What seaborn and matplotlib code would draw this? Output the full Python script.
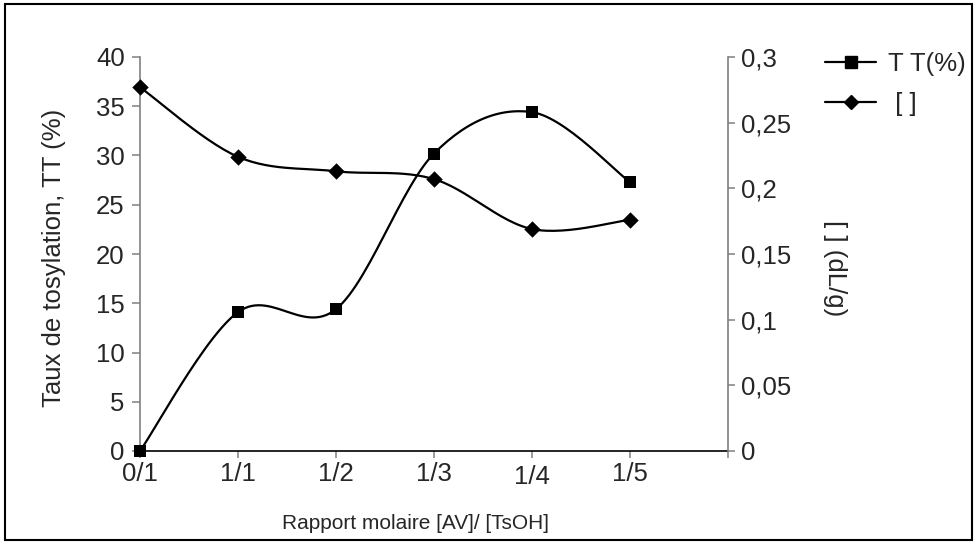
import numpy as np
import pandas as pd
import matplotlib
matplotlib.use("Agg")
import matplotlib.pyplot as plt
import seaborn as sns
from matplotlib.patches import Rectangle
from matplotlib.lines import Line2D

# Data
ratios = ["0/1", "1/1", "1/2", "1/3", "1/4", "1/5"]
taux_tosylation = [0.0, 14.1, 14.4, 30.2, 34.4, 27.3]     # TT (%)
viscosite = [0.277, 0.224, 0.213, 0.207, 0.169, 0.176]   # [ ] (dL/g)

sns.set_theme(style="white")
plt.rcParams["font.family"] = ["Liberation Sans", "DejaVu Sans"]


def smooth(xs, ys, n=30, k=1 / 6.0):
    """Cubic Bezier spline through the points (spreadsheet-style smoothed line)."""
    xs = np.asarray(xs, float)
    ys = np.asarray(ys, float)
    px = np.concatenate([[xs[0]], xs, [xs[-1]]])
    py = np.concatenate([[ys[0]], ys, [ys[-1]]])
    out_x, out_y = [], []
    for i in range(1, len(px) - 2):
        p0, p1, p2, p3 = (np.array([px[j], py[j]]) for j in (i - 1, i, i + 1, i + 2))
        c1 = p1 + (p2 - p0) * k
        c2 = p2 - (p3 - p1) * k
        t = np.linspace(0, 1, n)[:, None]
        b = ((1 - t) ** 3) * p1 + 3 * ((1 - t) ** 2) * t * c1 + 3 * (1 - t) * t ** 2 * c2 + t ** 3 * p2
        out_x.extend(b[:, 0])
        out_y.extend(b[:, 1])
    return np.array(out_x), np.array(out_y)


pos = np.arange(len(ratios))
df = pd.DataFrame({"pos": pos, "tt": taux_tosylation, "eta": viscosite})

fig = plt.figure(figsize=(9.76, 5.44), dpi=100)
ax = fig.add_axes([140 / 976, 1 - 451 / 544, 588 / 976, (451 - 57) / 544])
ax2 = ax.twinx()

# Tosylation rate on the left axis
sx, sy = smooth(df["pos"], df["tt"])
sns.lineplot(x=sx, y=sy, ax=ax, color="black", lw=1.6, sort=False, estimator=None)
sns.scatterplot(data=df, x="pos", y="tt", ax=ax, marker="s", s=75, color="black",
                edgecolor="black", linewidth=0, zorder=5, clip_on=False)

# Intrinsic viscosity on the right axis
ex, ey = smooth(df["pos"], df["eta"])
sns.lineplot(x=ex, y=ey, ax=ax2, color="black", lw=1.6, sort=False, estimator=None)
sns.scatterplot(data=df, x="pos", y="eta", ax=ax2, marker="D", s=70, color="black",
                edgecolor="black", linewidth=0, zorder=5, clip_on=False)

ax.set_xlim(0, 6)
ax.set_ylim(0, 40)
ax2.set_ylim(0, 0.3)
ax.set_yticks(np.arange(0, 41, 5))
ax2.set_yticks(np.arange(0, 0.301, 0.05))
ax2.set_yticklabels(["0", "0,05", "0,1", "0,15", "0,2", "0,25", "0,3"])
ax.set_xticks(np.arange(0, 7))
ax.set_xticklabels(ratios + [""])
for lbl in ax.get_xticklabels():
    if lbl.get_text() == "1/4":
        lbl.set_y(-0.008)

for a in (ax, ax2):
    for s in a.spines.values():
        s.set_visible(False)
ax.spines["left"].set_visible(True)
ax.spines["left"].set_color("#808080")
ax.spines["bottom"].set_visible(True)
ax.spines["bottom"].set_color("black")
ax2.spines["right"].set_visible(True)
ax2.spines["right"].set_color("#808080")
for s in (ax.spines["left"], ax.spines["bottom"], ax2.spines["right"]):
    s.set_linewidth(1.2)

ax.tick_params(axis="y", which="major", direction="out", length=6, width=1.1,
               color="#808080", labelsize=18.5, pad=5, left=True)
ax.tick_params(axis="x", which="major", direction="out", length=5, width=1.1,
               color="#808080", labelsize=18.5, pad=3, bottom=True)
ax2.tick_params(axis="y", which="major", direction="out", length=5, width=1.1,
                color="#808080", labelsize=18.5, pad=4, right=True)
ax.grid(False)
ax2.grid(False)

ax.set_xlabel("Rapport molaire [AV]/ [TsOH]", fontsize=15)
ax.xaxis.set_label_coords(0.468, -0.16)
ax.set_ylabel("Taux de tosylation, TT (%)", fontsize=18.5)
ax.yaxis.set_label_coords(-0.125, 0.49)
ax2.set_ylabel("[ ] (dL/g)", fontsize=18.5, rotation=270, va="center")
ax2.yaxis.set_label_coords(1.182, 0.464)

handles = [
    Line2D([], [], color="black", lw=1.6, marker="s", markersize=8),
    Line2D([], [], color="black", lw=1.6, marker="D", markersize=7.5),
]
fig.legend(handles, ["T T(%)", " [ ]"], loc="upper left",
           bbox_to_anchor=(825 / 976, 1 - 52 / 544), frameon=False,
           fontsize=18.5, labelspacing=0.62, handlelength=2.0, handletextpad=0.45,
           borderpad=0, borderaxespad=0)

# Outer frame around the whole chart
fig.patches.append(Rectangle((5 / 976, 4 / 544), 967 / 976, 536 / 544,
                             transform=fig.transFigure, fill=False,
                             edgecolor="black", lw=1.5))

fig.savefig("out.png", dpi=100)
